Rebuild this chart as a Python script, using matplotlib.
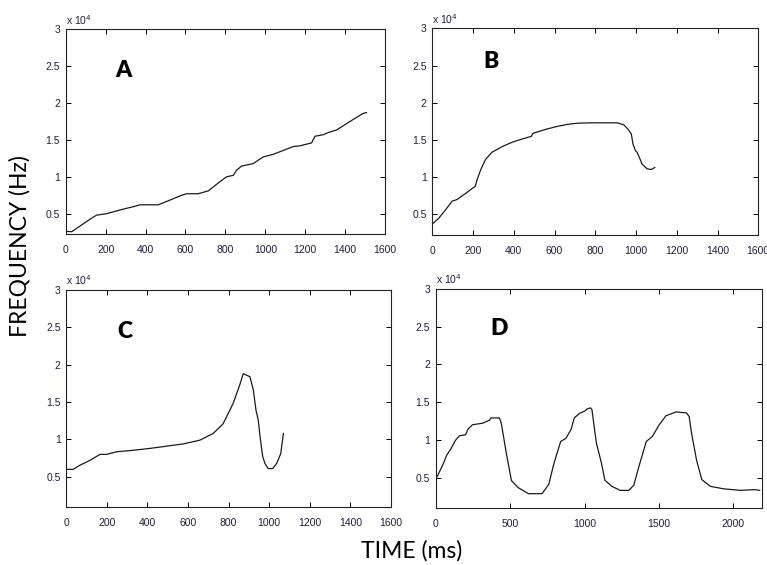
import matplotlib
matplotlib.use("Agg")
import matplotlib.pyplot as plt

# === Data (time in ms, frequency in Hz) ===
a_time = [0, 30, 130, 155, 205, 272, 339, 372, 464, 523, 581, 606, 664, 715, 773,
          806, 840, 856, 881, 940, 990, 1040, 1140, 1174, 1232, 1249, 1290, 1315,
          1357, 1424, 1490, 1507]
a_freq = [2600, 2550, 4400, 4800, 5000, 5500, 5950, 6200, 6200, 6850, 7500, 7700,
          7700, 8100, 9350, 10000, 10200, 10900, 11450, 11800, 12700, 13050, 14100,
          14200, 14600, 15500, 15700, 16000, 16350, 17500, 18600, 18700]

b_time = [0, 31, 64, 97, 121, 162, 195, 211, 219, 236, 260, 293, 342, 391, 440,
          486, 494, 555, 612, 670, 719, 800, 850, 907, 940, 963, 977, 985, 997,
          1005, 1016, 1029, 1054, 1075, 1092]
b_freq = [3710, 4470, 5580, 6780, 7000, 7800, 8470, 8780, 9580, 10900, 12330,
          13360, 14100, 14690, 15130, 15490, 15890, 16420, 16820, 17130, 17270,
          17310, 17310, 17310, 17040, 16380, 15800, 14470, 13580, 13360, 12690,
          11800, 11130, 11040, 11310]

c_time = [0, 34, 67, 117, 166, 199, 248, 330, 412, 494, 576, 658, 724, 773, 822,
          855, 872, 905, 922, 935, 946, 955, 968, 979, 995, 1017, 1037, 1057, 1070]
c_freq = [6000, 6000, 6550, 7200, 8000, 8000, 8350, 8550, 8800, 9100, 9400, 9900,
          10800, 12100, 14800, 17300, 18800, 18400, 16600, 13900, 12600, 10400,
          7700, 6800, 6100, 6100, 6800, 8100, 10800]

d_time = [0, 18, 53, 75, 98, 132, 160, 201, 217, 247, 315, 361, 372, 429, 441,
          475, 509, 555, 623, 715, 760, 795, 840, 875, 909, 931, 966, 1000, 1018,
          1041, 1050, 1080, 1114, 1137, 1183, 1240, 1297, 1331, 1365, 1415, 1456,
          1502, 1548, 1616, 1685, 1703, 1719, 1753, 1788, 1845, 1936, 2050, 2141,
          2176]
d_freq = [4780, 5450, 6900, 8000, 8660, 9900, 10540, 10670, 11400, 12000, 12200,
          12600, 12900, 12900, 12200, 8200, 4600, 3660, 2860, 2860, 4100, 6900,
          9780, 10200, 11340, 12900, 13500, 13800, 14100, 14240, 14000, 9550, 6900,
          4640, 3840, 3300, 3300, 3970, 6430, 9780, 10450, 12000, 13200, 13700,
          13570, 13100, 10900, 7300, 4730, 3840, 3500, 3300, 3400, 3300]

panel_names = ["A", "B", "C", "D"]
y_ticks = [5000, 10000, 15000, 20000, 25000, 30000]
y_tick_labels = ["0.5", "1", "1.5", "2", "2.5", "3"]
x_ticks_short = [0, 200, 400, 600, 800, 1000, 1200, 1400, 1600]
x_ticks_long = [0, 500, 1000, 1500, 2000]

tick_color = "#221d3d"
line_color = "#1a1a1a"

fig = plt.figure(figsize=(7.67, 5.65), dpi=100)

# axes rectangles
rects = [
    [0.0857, 0.5853, 0.4163, 0.3628],
    [0.5636, 0.5835, 0.4250, 0.3664],
    [0.0864, 0.1032, 0.4233, 0.3835],
    [0.5680, 0.1014, 0.4250, 0.3871],
]
series = [(a_time, a_freq), (b_time, b_freq), (c_time, c_freq), (d_time, d_freq)]
xlims = [(0, 1600), (0, 1600), (0, 1600), (0, 2190)]
ylims = [(2200, 30000), (2200, 30000), (1000, 30000), (1000, 30000)]
xticks = [x_ticks_short, x_ticks_short, x_ticks_short, x_ticks_long]
label_pos = [(0.18, 0.80), (0.18, 0.84), (0.18, 0.81), (0.196, 0.82)]

for i, name in enumerate(panel_names):
    ax = fig.add_axes(rects[i])
    t, f = series[i]
    ax.plot(t, f, color=line_color, lw=0.9)
    ax.set_xlim(*xlims[i])
    ax.set_ylim(*ylims[i])
    ax.set_xticks(xticks[i])
    ax.set_xticklabels([str(v) for v in xticks[i]])
    ax.set_yticks(y_ticks)
    ax.set_yticklabels(y_tick_labels)
    ax.tick_params(direction="in", top=True, right=True, length=3.5, width=0.7,
                   labelsize=7.5, labelcolor=tick_color, labelfontfamily="Liberation Sans")
    ax.tick_params(axis="x", pad=8)
    ax.tick_params(axis="y", pad=4)
    for s in ax.spines.values():
        s.set_linewidth(0.8)
        s.set_color("#222222")
    ax.text(0.0, 1.012, r"x 10$^4$", transform=ax.transAxes, ha="left", va="bottom",
            fontsize=7.5, color=tick_color, family="Liberation Sans")
    ax.text(label_pos[i][0], label_pos[i][1], name, transform=ax.transAxes,
            ha="center", va="center", fontsize=16.5, fontweight="heavy", family="Lato")

fig.text(0.026, 0.565, "FREQUENCY (Hz)", rotation=90, ha="center", va="center",
         fontsize=16.5, family="Lato")
fig.text(0.537, 0.025, "TIME (ms)", ha="center", va="center", fontsize=16.5, family="Lato")

fig.savefig("out.png", dpi=100)
